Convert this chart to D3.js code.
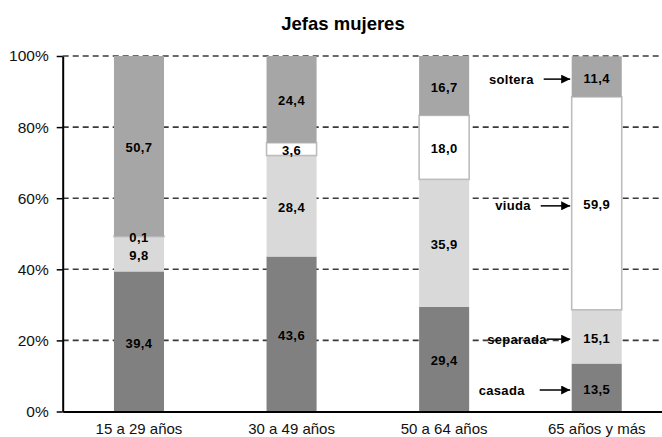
<!DOCTYPE html>
<html>
<head>
<meta charset="utf-8">
<script src="https://cdn.jsdelivr.net/npm/d3@7"></script>
<style>
  html, body { margin: 0; padding: 0; background: #fff; }
  svg { display: block; font-family: "Liberation Sans", Arial, sans-serif; }
</style>
</head>
<body>
<svg id="chart" width="662" height="437"></svg>
<script>
// Age groups of female household heads
const categories = ["15 a 29 años", "30 a 49 años", "50 a 64 años", "65 años y más"];

// Marital status shares (%), stacked bottom to top
const casada   = [39.4, 43.6, 29.4, 13.5];
const separada = [9.8, 28.4, 35.9, 15.1];
const viuda    = [0.1, 3.6, 18.0, 59.9];
const soltera  = [50.7, 24.4, 16.7, 11.4];

const seriesNames = ["casada", "separada", "viuda", "soltera"];
const seriesValues = [casada, separada, viuda, soltera];

const yTicks = [0, 20, 40, 60, 80, 100];
const title = "Jefas mujeres";

// Styling
const fills   = { casada: "#808080", separada: "#d9d9d9", viuda: "#ffffff", soltera: "#a6a6a6" };
const strokes = { viuda: "#bdbdbd" };

// Callout placement beside the last bar: [text end offset, arrow start offset] from bar's left edge
const calloutOffsets = { soltera: [38, 28], viuda: [41, 31], separada: [25, 25], casada: [47, 32] };

const svg = d3.select("#chart");
const plotLeft = 62.7, plotRight = 673, plotTop = 56, plotBottom = 411.5;

const x = d3.scaleBand()
  .domain(categories)
  .range([plotLeft, plotRight])
  .paddingInner(0.672)
  .paddingOuter(0.336);

const y = d3.scaleLinear().domain([0, 100]).range([plotBottom, plotTop]);

const comma = d3.formatLocale({ decimal: ",", thousands: ".", grouping: [3], currency: ["", ""] }).format(".1f");

// Title
svg.append("text")
  .attr("x", 343).attr("y", 29.5)
  .attr("text-anchor", "middle")
  .attr("font-weight", "bold")
  .attr("font-size", 18.5)
  .attr("fill", "#000")
  .text(title);

// Dashed gridlines
svg.append("g")
  .selectAll("line")
  .data(yTicks.filter(d => d > 0))
  .join("line")
  .attr("x1", plotLeft).attr("x2", 662)
  .attr("y1", d => y(d)).attr("y2", d => y(d))
  .attr("stroke", "#3a3a3a")
  .attr("stroke-width", 1.6)
  .attr("stroke-dasharray", "6,4");

// Stack layout
const rows = categories.map((c, i) => {
  const r = { category: c };
  seriesNames.forEach((s, k) => { r[s] = seriesValues[k][i]; });
  return r;
});
const stacked = d3.stack().keys(seriesNames)(rows);

const bars = svg.append("g");
stacked.forEach(layer => {
  const key = layer.key;
  bars.append("g")
    .selectAll("rect")
    .data(layer)
    .join("rect")
    .attr("x", d => x(d.data.category))
    .attr("width", x.bandwidth())
    .attr("y", d => y(d[1]))
    .attr("height", d => Math.max(0, y(d[0]) - y(d[1])))
    .attr("fill", fills[key])
    .attr("stroke", strokes[key] || "none")
    .attr("stroke-width", strokes[key] ? 1.6 : 0);
});

// Value labels
const labels = svg.append("g")
  .attr("font-size", 13)
  .attr("font-weight", "bold")
  .attr("letter-spacing", 0.4)
  .attr("fill", "#000")
  .attr("text-anchor", "middle");
stacked.forEach(layer => {
  labels.append("g")
    .selectAll("text")
    .data(layer)
    .join("text")
    .attr("x", d => x(d.data.category) + x.bandwidth() / 2)
    .attr("y", d => y((d[0] + d[1]) / 2) + 1.5)
    .attr("dy", "0.35em")
    .text(d => comma(d[1] - d[0]));
});

// Axes
const yAxis = svg.append("g")
  .attr("transform", `translate(${plotLeft},0)`)
  .call(d3.axisLeft(y).tickValues(yTicks).tickFormat(d => d + "%").tickSize(6).tickSizeOuter(0).tickPadding(8));
yAxis.select(".domain").attr("stroke", "#000").attr("stroke-width", 2);
yAxis.selectAll(".tick line").attr("stroke", "#000").attr("stroke-width", 1.5);
yAxis.selectAll(".tick text")
  .attr("font-size", 15.5)
  .attr("fill", "#111")
  .attr("font-family", "Liberation Sans, Arial, sans-serif");

const xAxis = svg.append("g")
  .attr("transform", `translate(0,${plotBottom})`)
  .call(d3.axisBottom(x).tickSize(0).tickSizeOuter(0).tickPadding(12));
xAxis.select(".domain").attr("stroke", "#000").attr("stroke-width", 2);
xAxis.selectAll(".tick text")
  .attr("font-size", 15)
  .attr("fill", "#111")
  .attr("font-family", "Liberation Sans, Arial, sans-serif");

// Callouts naming each segment of the last bar
const lastCat = categories[categories.length - 1];
const barLeft = x(lastCat);
const lastStack = stacked.map(layer => ({ key: layer.key, seg: layer[layer.length - 1] }));

svg.append("defs").append("marker")
  .attr("id", "arrowhead")
  .attr("viewBox", "0 0 10 10")
  .attr("refX", 10).attr("refY", 5)
  .attr("markerWidth", 6).attr("markerHeight", 6)
  .attr("markerUnits", "strokeWidth")
  .attr("orient", "auto")
  .append("path")
  .attr("d", "M0,0 L10,5 L0,10 Z")
  .attr("fill", "#000");

const callouts = svg.append("g");
lastStack.forEach(({ key, seg }) => {
  const cy = y((seg[0] + seg[1]) / 2) + 2.5;
  const [textOff, arrowOff] = calloutOffsets[key];
  callouts.append("line")
    .attr("x1", barLeft - arrowOff).attr("x2", barLeft - 1.5)
    .attr("y1", cy).attr("y2", cy)
    .attr("stroke", "#000")
    .attr("stroke-width", 1.5)
    .attr("marker-end", "url(#arrowhead)");
  callouts.append("text")
    .attr("x", barLeft - textOff)
    .attr("y", cy)
    .attr("dy", "0.35em")
    .attr("text-anchor", "end")
    .attr("font-size", 13)
    .attr("font-weight", "bold")
    .attr("letter-spacing", 0.3)
    .attr("fill", "#000")
    .text(key);
});
</script>
</body>
</html>
